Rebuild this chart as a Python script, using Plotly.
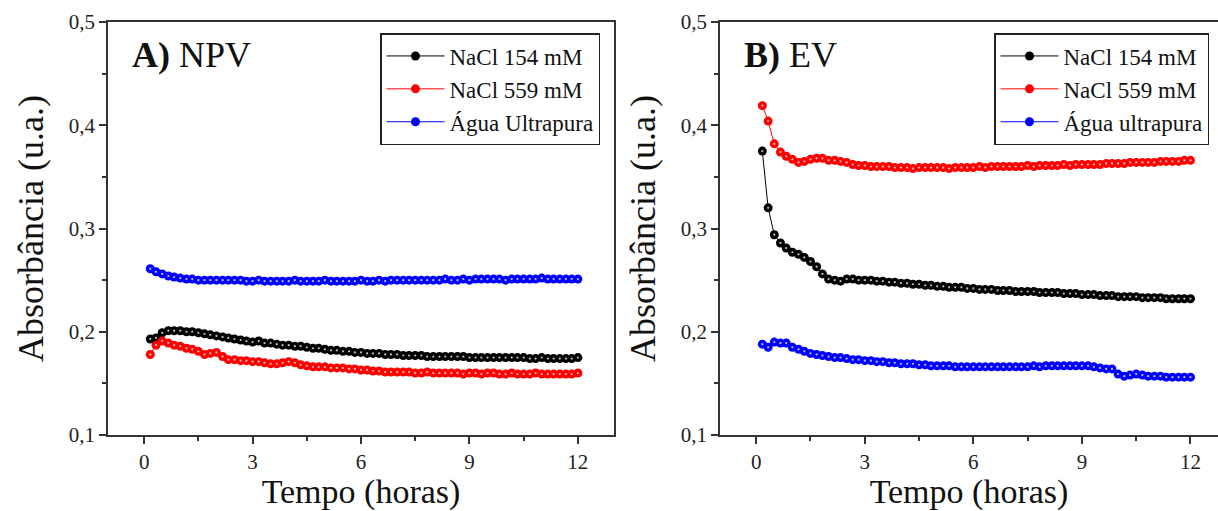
import plotly.graph_objects as go

# measurement times (hours), one reading every 10 minutes
tempo = [0.17, 0.33, 0.5, 0.67, 0.83, 1.0, 1.17, 1.33, 1.5, 1.67, 1.83, 2.0,
         2.17, 2.33, 2.5, 2.67, 2.83, 3.0, 3.17, 3.33, 3.5, 3.67, 3.83, 4.0,
         4.17, 4.33, 4.5, 4.67, 4.83, 5.0, 5.17, 5.33, 5.5, 5.67, 5.83, 6.0,
         6.17, 6.33, 6.5, 6.67, 6.83, 7.0, 7.17, 7.33, 7.5, 7.67, 7.83, 8.0,
         8.17, 8.33, 8.5, 8.67, 8.83, 9.0, 9.17, 9.33, 9.5, 9.67, 9.83, 10.0,
         10.17, 10.33, 10.5, 10.67, 10.83, 11.0, 11.17, 11.33, 11.5, 11.67, 11.83, 12.0]

# Panel A) NPV
npv_154 = [0.193, 0.194, 0.199, 0.201, 0.201, 0.201, 0.200, 0.200, 0.199, 0.198, 0.197, 0.196,
           0.195, 0.194, 0.193, 0.192, 0.191, 0.190, 0.191, 0.189, 0.189, 0.188, 0.187, 0.187,
           0.186, 0.186, 0.185, 0.184, 0.184, 0.183, 0.182, 0.182, 0.181, 0.181, 0.180, 0.180,
           0.179, 0.179, 0.179, 0.178, 0.178, 0.178, 0.177, 0.177, 0.177, 0.177, 0.176, 0.176,
           0.176, 0.176, 0.176, 0.176, 0.176, 0.175, 0.175, 0.175, 0.175, 0.175, 0.175, 0.175,
           0.175, 0.175, 0.175, 0.174, 0.174, 0.175, 0.174, 0.174, 0.174, 0.174, 0.174, 0.175]
npv_559 = [0.178, 0.187, 0.191, 0.189, 0.187, 0.186, 0.184, 0.183, 0.181, 0.178, 0.179, 0.180,
           0.176, 0.173, 0.173, 0.172, 0.172, 0.171, 0.171, 0.170, 0.169, 0.169, 0.170, 0.171,
           0.170, 0.168, 0.167, 0.166, 0.166, 0.166, 0.165, 0.165, 0.165, 0.164, 0.164, 0.163,
           0.163, 0.162, 0.162, 0.161, 0.161, 0.161, 0.161, 0.161, 0.160, 0.160, 0.161, 0.160,
           0.160, 0.160, 0.160, 0.160, 0.159, 0.160, 0.160, 0.159, 0.160, 0.160, 0.159, 0.159,
           0.160, 0.159, 0.159, 0.159, 0.160, 0.159, 0.159, 0.159, 0.159, 0.159, 0.159, 0.160]
npv_agua = [0.261, 0.258, 0.256, 0.254, 0.253, 0.252, 0.251, 0.251, 0.250, 0.250, 0.250, 0.250,
            0.250, 0.250, 0.250, 0.250, 0.249, 0.249, 0.250, 0.249, 0.249, 0.249, 0.249, 0.249,
            0.250, 0.249, 0.249, 0.249, 0.249, 0.250, 0.249, 0.249, 0.249, 0.249, 0.249, 0.250,
            0.249, 0.249, 0.250, 0.249, 0.250, 0.250, 0.250, 0.250, 0.250, 0.250, 0.250, 0.250,
            0.250, 0.251, 0.250, 0.250, 0.251, 0.250, 0.251, 0.251, 0.251, 0.251, 0.251, 0.250,
            0.251, 0.251, 0.251, 0.251, 0.251, 0.252, 0.251, 0.251, 0.251, 0.251, 0.251, 0.251]

# Panel B) EV
ev_154 = [0.375, 0.320, 0.294, 0.286, 0.281, 0.277, 0.275, 0.272, 0.268, 0.263, 0.256, 0.251,
          0.250, 0.249, 0.251, 0.251, 0.250, 0.250, 0.250, 0.249, 0.249, 0.248, 0.248, 0.247,
          0.247, 0.246, 0.246, 0.245, 0.245, 0.244, 0.244, 0.243, 0.243, 0.243, 0.242, 0.242,
          0.241, 0.241, 0.241, 0.240, 0.240, 0.240, 0.239, 0.239, 0.239, 0.239, 0.238, 0.238,
          0.238, 0.238, 0.237, 0.237, 0.237, 0.236, 0.236, 0.236, 0.235, 0.235, 0.235, 0.234,
          0.234, 0.234, 0.234, 0.233, 0.233, 0.233, 0.233, 0.232, 0.232, 0.232, 0.232, 0.232]
ev_559 = [0.419, 0.404, 0.382, 0.374, 0.370, 0.367, 0.364, 0.365, 0.367, 0.368, 0.368, 0.366,
          0.366, 0.365, 0.364, 0.362, 0.361, 0.361, 0.360, 0.360, 0.360, 0.360, 0.359, 0.359,
          0.359, 0.358, 0.359, 0.359, 0.359, 0.359, 0.359, 0.358, 0.359, 0.359, 0.359, 0.359,
          0.360, 0.359, 0.360, 0.360, 0.360, 0.360, 0.360, 0.360, 0.361, 0.360, 0.361, 0.361,
          0.361, 0.361, 0.362, 0.361, 0.362, 0.362, 0.362, 0.362, 0.362, 0.363, 0.363, 0.363,
          0.363, 0.364, 0.364, 0.364, 0.364, 0.364, 0.365, 0.365, 0.365, 0.365, 0.366, 0.366]
ev_agua = [0.188, 0.185, 0.190, 0.189, 0.189, 0.185, 0.183, 0.181, 0.179, 0.178, 0.177, 0.176,
           0.175, 0.175, 0.174, 0.173, 0.173, 0.172, 0.172, 0.171, 0.171, 0.170, 0.170, 0.169,
           0.169, 0.169, 0.168, 0.168, 0.167, 0.167, 0.167, 0.167, 0.166, 0.166, 0.166, 0.166,
           0.166, 0.166, 0.166, 0.166, 0.166, 0.166, 0.166, 0.166, 0.166, 0.167, 0.166, 0.167,
           0.167, 0.167, 0.167, 0.167, 0.167, 0.167, 0.167, 0.166, 0.165, 0.164, 0.164, 0.159,
           0.157, 0.158, 0.159, 0.158, 0.157, 0.157, 0.157, 0.156, 0.156, 0.156, 0.156, 0.156]

names_a = ["NaCl 154 mM", "NaCl 559 mM", "Água Ultrapura"]
names_b = ["NaCl 154 mM", "NaCl 559 mM", "Água ultrapura"]
colors = ["#000000", "#ff0000", "#0000ff"]

FONT = "Liberation Serif, Times New Roman, serif"
W, H = 1218, 511

fig = go.Figure()

def add_series(xax, yax, ys, name, color, legend):
    fig.add_trace(go.Scatter(
        x=tempo, y=ys, name=name, mode="lines+markers",
        xaxis=xax, yaxis=yax, legend=legend,
        line=dict(color=color, width=1),
        marker=dict(symbol="circle", size=9, color=color, line=dict(width=0)),
    ))
    fig.add_trace(go.Scatter(
        x=tempo, y=ys, mode="markers", showlegend=False, hoverinfo="skip",
        xaxis=xax, yaxis=yax,
        marker=dict(symbol="circle", size=2.2, color="rgba(255,255,255,0.75)", line=dict(width=0)),
    ))

for ys, n, c in zip([npv_154, npv_559, npv_agua], names_a, colors):
    add_series("x", "y", ys, n, c, "legend")
for ys, n, c in zip([ev_154, ev_559, ev_agua], names_b, colors):
    add_series("x2", "y2", ys, n, c, "legend2")

ydom = [1 - 435 / H, 1 - 22 / H]
axis_common = dict(
    showline=True, linecolor="#333333", linewidth=1.5, mirror=True,
    ticks="outside", ticklen=7, tickwidth=1.5, tickcolor="#333333",
    showgrid=False, zeroline=False, automargin=False,
    tickfont=dict(family=FONT, size=21, color="#222222"),
)
xcommon = dict(axis_common, tick0=0, dtick=3,
               minor=dict(dtick=1.5, ticks="outside", ticklen=4, tickwidth=1.5, tickcolor="#333333", showgrid=False),
               title=dict(text="Tempo (horas)", font=dict(family=FONT, size=34, color="#111111"), standoff=6))
ycommon = dict(axis_common, range=[0.1, 0.5], tick0=0.1, dtick=0.1, tickformat=".1f",
               minor=dict(dtick=0.05, ticks="outside", ticklen=4, tickwidth=1.5, tickcolor="#333333", showgrid=False),
               title=dict(text="Absorbância (u.a.)", font=dict(family=FONT, size=36, color="#111111"), standoff=14))

legend_common = dict(yanchor="top", xanchor="left", y=1 - 33 / H,
                     bordercolor="#222222", borderwidth=1.5, bgcolor="white",
                     font=dict(family=FONT, size=23, color="#111111"), itemwidth=58,
                     tracegroupgap=0)

fig.update_layout(
    width=W, height=H, autosize=False,
    margin=dict(l=0, r=0, t=0, b=0, autoexpand=False),
    paper_bgcolor="white", plot_bgcolor="white",
    separators=",.",
    font=dict(family=FONT, color="#111111"),
    xaxis=dict(xcommon, domain=[108 / W, 614 / W], range=[-1, 13], anchor="y"),
    yaxis=dict(ycommon, domain=ydom, anchor="x"),
    xaxis2=dict(xcommon, domain=[720 / W, 1.0], range=[-1, 12.76], anchor="y2"),
    yaxis2=dict(ycommon, domain=ydom, anchor="x2"),
    legend=dict(legend_common, x=380 / W),
    legend2=dict(legend_common, x=994 / W),
    showlegend=True,
    annotations=[
        dict(text="<b>A)</b> NPV", x=130 / W, y=1 - 55 / H, xref="paper", yref="paper",
             xanchor="left", yanchor="middle", showarrow=False,
             font=dict(family=FONT, size=36, color="#111111")),
        dict(text="<b>B)</b> EV", x=742 / W, y=1 - 55 / H, xref="paper", yref="paper",
             xanchor="left", yanchor="middle", showarrow=False,
             font=dict(family=FONT, size=36, color="#111111")),
    ],
)

fig.write_html("out.html")
